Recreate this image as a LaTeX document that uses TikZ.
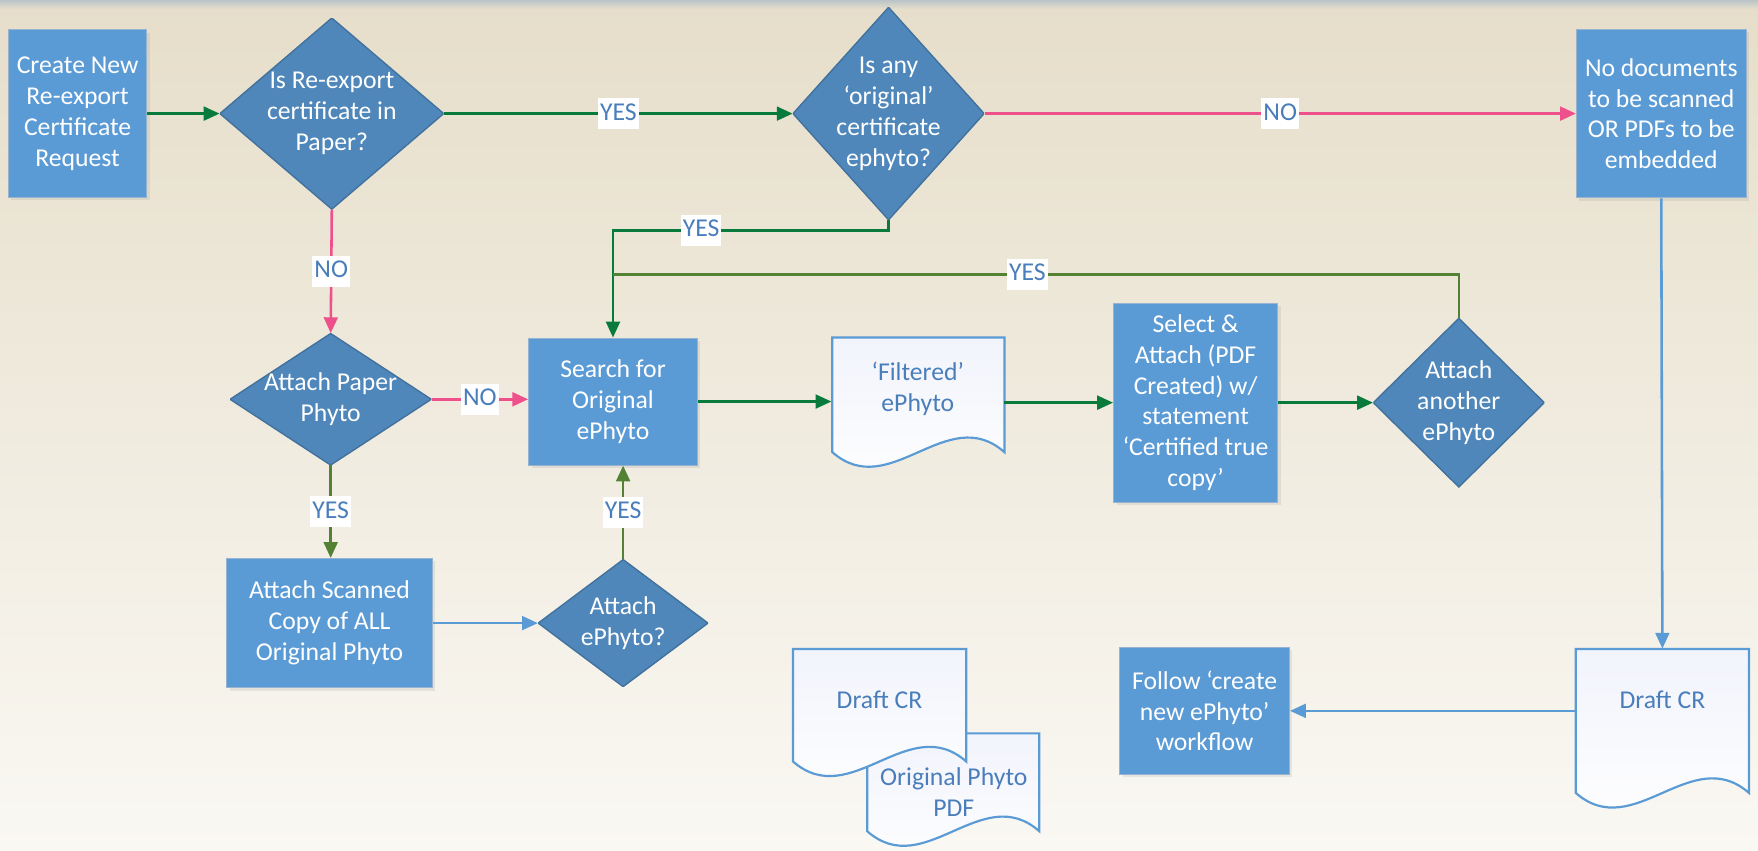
\documentclass[tikz,border=0pt]{standalone}
\usepackage{fontspec}
\setmainfont{Carlito}
\usepackage{tikz}
\usepackage{xcolor}
\usetikzlibrary{arrows.meta, shadows}

\definecolor{boxblue}{RGB}{91,155,213}
\definecolor{boxedge}{RGB}{150,180,210}
\definecolor{diafill}{RGB}{79,135,186}
\definecolor{diaedge}{RGB}{65,113,156}
\definecolor{flowgreen}{RGB}{8,122,60}
\definecolor{yesolive}{RGB}{84,130,53}
\definecolor{nopink}{RGB}{238,80,140}
\definecolor{lineblue}{RGB}{91,155,213}
\definecolor{labelblue}{RGB}{74,126,187}
\definecolor{bgtop}{RGB}{230,222,202}
\definecolor{bgbot}{RGB}{250,248,243}
\definecolor{bandgray}{RGB}{186,196,200}
\definecolor{docfill}{RGB}{242,244,252}

\tikzset{
  box/.style={rectangle, fill=boxblue, draw=boxedge, line width=0.5pt, text=white,
    align=center, inner sep=2pt,
    drop shadow={opacity=0.15, shadow xshift=1.5pt, shadow yshift=-1.5pt}},
  dia/.style={rectangle, inner sep=0pt, text=white, align=center,
    path picture={\filldraw[fill=diafill, draw=diaedge, line width=0.7pt]
      (path picture bounding box.north) -- (path picture bounding box.east) --
      (path picture bounding box.south) -- (path picture bounding box.west) -- cycle;}},
  doctext/.style={rectangle, text=labelblue, align=center, inner sep=0pt},
  lbl/.style={fill=white, text=labelblue, inner xsep=1pt, inner ysep=2pt,
    text height=9pt, text depth=2.5pt},
  gline/.style={draw=flowgreen, line width=1.3pt},
  oline/.style={draw=yesolive, line width=1.3pt},
  pline/.style={draw=nopink, line width=1.3pt},
  bline/.style={draw=lineblue, line width=1.3pt},
}

% document outline with wavy bottom: left, right, top, corner
\newcommand{\docshape}[4]{%
  \path[draw=lineblue, line width=1.1pt, top color=docfill, bottom color=white]
    (#1,#3) -- (#2,#3) -- (#2,#4)
    .. controls ({#2-(#2-#1)/3},{#4-45}) and ({#1+(#2-#1)/3},{#4+45}) .. (#1,#4) -- cycle;}

\begin{document}
\begin{tikzpicture}[x=0.02cm, y=-0.02cm, font=\fontsize{13}{15.6}\selectfont,
    >={Triangle[length=8pt, width=7pt]}]
  \useasboundingbox (0,0) rectangle (1563,756);
  % background
  \shade[top color=bgtop, bottom color=bgbot] (0,0) rectangle (1563,756);
  \shade[top color=bandgray, bottom color=bgtop] (0,0) rectangle (1563,8);

  % documents
  \docshape{771}{924}{652}{739}
  \docshape{705}{859}{577}{677}
  \docshape{740}{893}{300}{402}
  \docshape{1401}{1555}{577}{705}

  % steps and decisions
  \node[box, minimum width=2.46cm, minimum height=2.98cm] (create) at (69,101) {Create New\\Re-export\\Certificate\\Request};
  \node[dia, minimum width=3.98cm, minimum height=3.4cm] (paper) at (295,101) {Is Re-export\\certificate in\\Paper?};
  \node[dia, minimum width=3.4cm, minimum height=3.78cm] (orig) at (790,101) {Is any\\‘original’\\certificate\\ephyto?};
  \node[box, minimum width=3.02cm, minimum height=3cm] (nodocs) at (1477,101) {No documents\\to be scanned\\OR PDFs to be\\embedded};
  \node[dia, minimum width=3.58cm, minimum height=2.34cm] (attpaper) at (294,355) {Attach Paper\\Phyto};
  \node[box, minimum width=3cm, minimum height=2.26cm] (search) at (545,357) {Search for\\Original\\ePhyto};
  \node[doctext, minimum width=3.06cm, minimum height=1.84cm] (filtered) at (816,346) {‘Filtered’\\ePhyto};
  \node[box, minimum width=2.92cm, minimum height=3.54cm] (select) at (1063,358) {Select \&\\Attach (PDF\\Created) w/\\statement\\‘Certified true\\copy’};
  \node[dia, minimum width=3.04cm, minimum height=3cm] (another) at (1297,358) {Attach\\another\\ePhyto};
  \node[box, minimum width=3.66cm, minimum height=2.3cm] (scanned) at (293,554) {Attach Scanned\\Copy of ALL\\Original Phyto};
  \node[dia, minimum width=3.02cm, minimum height=2.26cm] (attephyto) at (554,554) {Attach\\ePhyto?};
  \node[box, minimum width=3.02cm, minimum height=2.26cm] (follow) at (1071,632) {Follow ‘create\\new ePhyto’\\workflow};
  \node[doctext, minimum width=3.08cm, minimum height=1.8cm] (draftR) at (1478,622) {Draft CR};
  \node[doctext, minimum width=3.08cm] (draftL) at (782,622) {Draft CR};
  \node[doctext, minimum width=3.06cm] (origpdf) at (848,704) {Original Phyto\\PDF};

  % top row
  \draw[gline, ->] (create.east) -- (paper.west);
  \draw[gline, ->] (paper.east) -- node[lbl] {YES} (orig.west);
  \draw[pline, ->] (orig.east) -- node[lbl] {NO} (nodocs.west);
  \draw[gline, ->] (orig.south) -- ++(0,9) -| node[lbl, pos=0.34] {YES} (search.north);
  \coordinate (join) at (545,244);
  \draw[oline] (another.north) |- node[lbl, pos=0.755] {YES} (join);

  % left branch
  \draw[pline, ->] (paper.south) -- node[lbl] {NO} (attpaper.north);
  \draw[pline, ->] (attpaper.east) -- node[lbl] {NO} (attpaper.east -| search.west);
  \draw[oline, ->] (attpaper.south) -- node[lbl] {YES} (attpaper.south |- scanned.north);
  \draw[bline, ->] (scanned.east) -- (attephyto.west);
  \draw[oline, ->] (attephyto.north) -- node[lbl] {YES} (attephyto.north |- search.south);

  % middle row
  \draw[gline, ->] (search.east) -- (search.east -| filtered.west);
  \draw[gline, ->] (select.west -| filtered.east) -- (select.west);
  \draw[gline, ->] (select.east) -- (another.west);

  % right column
  \draw[bline, ->] (nodocs.south) -- (draftR.north);
  \draw[bline, ->] (follow.east -| draftR.west) -- (follow.east);
\end{tikzpicture}
\end{document}
